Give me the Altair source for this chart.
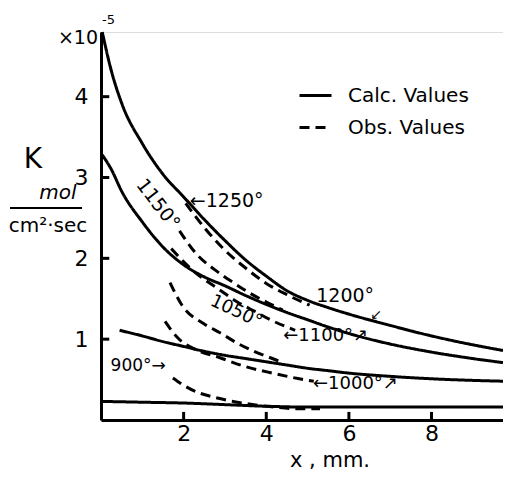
import altair as alt
import pandas as pd

FONT = "DejaVu Sans"

# ---- calculated curves (solid) ----
calc_a_x = [0.03, 0.25, 0.5, 1, 1.5, 2, 2.5, 3, 3.5, 4, 4.5, 5, 5.5, 6, 7, 8, 9, 9.73]
calc_a_y = [4.8, 4.32, 3.92, 3.42, 3.04, 2.76, 2.48, 2.22, 1.98, 1.78, 1.60, 1.48, 1.39, 1.31, 1.17, 1.04, 0.93, 0.86]

calc_b_x = [0.03, 0.25, 0.5, 1, 1.5, 2, 2.5, 3, 3.5, 4, 4.5, 5, 5.5, 6, 7, 8, 9, 9.73]
calc_b_y = [3.28, 3.10, 2.83, 2.45, 2.14, 1.92, 1.77, 1.66, 1.54, 1.43, 1.33, 1.24, 1.15, 1.07, 0.94, 0.84, 0.76, 0.71]

calc_c_x = [0.45, 1, 1.5, 2, 2.5, 3, 3.5, 4, 4.5, 5, 5.5, 6, 7, 8, 9, 9.73]
calc_c_y = [1.11, 1.04, 0.97, 0.91, 0.85, 0.80, 0.76, 0.72, 0.68, 0.64, 0.61, 0.58, 0.54, 0.51, 0.49, 0.48]

calc_d_x = [0.03, 1, 2, 3, 4, 5, 6, 7, 8, 9, 9.73]
calc_d_y = [0.23, 0.22, 0.21, 0.19, 0.17, 0.16, 0.16, 0.16, 0.16, 0.16, 0.16]

# ---- observed curves (dashed) ----
obs_1250_x = [2.05, 2.5, 3, 3.5, 4, 4.5, 5.05]
obs_1250_y = [2.68, 2.38, 2.10, 1.88, 1.69, 1.55, 1.42]

obs_1150_x = [1.9, 2.3, 2.75, 3.2, 3.6, 4.0, 4.4]
obs_1150_y = [2.34, 2.06, 1.86, 1.70, 1.57, 1.46, 1.36]

obs_1100_x = [1.7, 2.2, 2.9, 3.3, 3.7, 4.1, 4.7]
obs_1100_y = [2.12, 1.86, 1.60, 1.46, 1.35, 1.24, 1.11]

obs_1050_x = [1.67, 1.96, 2.49, 2.88, 3.3, 3.7, 4.1, 4.4]
obs_1050_y = [1.70, 1.42, 1.19, 1.08, 0.95, 0.85, 0.77, 0.71]

obs_1000_x = [1.55, 1.85, 2.3, 2.88, 3.5, 4.15, 4.8, 5.15]
obs_1000_y = [1.22, 1.02, 0.87, 0.77, 0.66, 0.58, 0.51, 0.48]

obs_900_x = [1.74, 2.0, 2.35, 2.75, 3.2, 3.7, 4.2, 4.7, 5.3]
obs_900_y = [0.52, 0.43, 0.34, 0.28, 0.23, 0.19, 0.16, 0.14, 0.14]

kinds = ["Calc. Values", "Obs. Values"]

x_ticks = [2, 4, 6, 8]
y_ticks = [1, 2, 3, 4]

series = [
    ("calc_a", kinds[0], calc_a_x, calc_a_y),
    ("calc_b", kinds[0], calc_b_x, calc_b_y),
    ("calc_c", kinds[0], calc_c_x, calc_c_y),
    ("calc_d", kinds[0], calc_d_x, calc_d_y),
    ("obs_1250", kinds[1], obs_1250_x, obs_1250_y),
    ("obs_1150", kinds[1], obs_1150_x, obs_1150_y),
    ("obs_1100", kinds[1], obs_1100_x, obs_1100_y),
    ("obs_1050", kinds[1], obs_1050_x, obs_1050_y),
    ("obs_1000", kinds[1], obs_1000_x, obs_1000_y),
    ("obs_900", kinds[1], obs_900_x, obs_900_y),
]
rows = []
for name, kind, xs, ys in series:
    for i, (xv, yv) in enumerate(zip(xs, ys)):
        rows.append({"series": name, "kind": kind, "x": xv, "y": yv, "order": i})
df = pd.DataFrame(rows)

# inward tick marks as short segments
tick_rows = []
for v in y_ticks:
    tick_rows.append({"series": f"yt{v}", "x": 0.0, "y": v, "order": 0})
    tick_rows.append({"series": f"yt{v}", "x": 0.2, "y": v, "order": 1})
for v in x_ticks:
    tick_rows.append({"series": f"xt{v}", "x": v, "y": 0.0, "order": 0})
    tick_rows.append({"series": f"xt{v}", "x": v, "y": 0.1, "order": 1})
tick_df = pd.DataFrame(tick_rows)

XMAX, YMAX = 9.73, 4.8
xscale = alt.Scale(domain=[0, XMAX], nice=False, zero=False)
yscale = alt.Scale(domain=[0, YMAX], nice=False)

XAXIS = alt.Axis(values=x_ticks, title=None, ticks=False, grid=False, domainWidth=3,
                 domainColor="black", labelFontSize=22, labelPadding=3, labelColor="black",
                 labelFont=FONT)
YAXIS = alt.Axis(values=y_ticks, title=None, ticks=False, grid=False, domainWidth=3,
                 domainColor="black", labelFontSize=22, labelPadding=13, labelColor="black",
                 labelFont=FONT)

lines = alt.Chart(df).mark_line(strokeWidth=3, color="black", interpolate="monotone").encode(
    x=alt.X("x:Q", scale=xscale, axis=XAXIS),
    y=alt.Y("y:Q", scale=yscale, axis=YAXIS),
    detail="series:N",
    order="order:Q",
    strokeDash=alt.StrokeDash("kind:N", scale=alt.Scale(domain=kinds, range=[[1, 0], [10, 6]]),
        legend=alt.Legend(orient="none", legendX=197, legendY=46, title=None,
                          symbolType="stroke", symbolSize=1024, symbolStrokeWidth=3,
                          symbolStrokeColor="black", labelFontSize=20, labelFont=FONT,
                          labelColor="black", labelOffset=15, rowPadding=4, padding=0)),
)

ticks = alt.Chart(tick_df).mark_line(strokeWidth=3, color="black", interpolate="linear").encode(
    x=alt.X("x:Q", scale=xscale, axis=XAXIS),
    y=alt.Y("y:Q", scale=yscale, axis=YAXIS),
    detail="series:N",
    order="order:Q")

def label(text, xv, yv, size=19, angle=0, align="left"):
    d = pd.DataFrame({"x": [xv], "y": [yv], "t": [text]})
    return alt.Chart(d).mark_text(font=FONT, fontSize=size, angle=angle, align=align,
                                  baseline="middle", color="black").encode(
        x=alt.X("x:Q", scale=xscale, axis=XAXIS),
        y=alt.Y("y:Q", scale=yscale, axis=YAXIS), text="t:N")

labels = [
    label("←1250°", 2.15, 2.71),
    label("1150°", 1.38, 2.67, angle=52, align="center"),
    label("1200°", 5.91, 1.53, align="center"),
    label("↙", 6.66, 1.30, size=14, align="center"),
    label("←1100°↗", 4.41, 1.04, size=18),
    label("1050°", 3.27, 1.34, size=18, angle=25, align="center"),
    label("←1000°↗", 5.13, 0.45, size=18),
    label("900°→", 0.9, 0.67, size=17, align="center"),
]

def ptext(text, px, py, size=20, align="center", style="normal"):
    d = pd.DataFrame({"t": [text]})
    return alt.Chart(d).mark_text(font=FONT, fontSize=size, align=align, baseline="middle",
                                  color="black", fontStyle=style).encode(
        x=alt.value(px), y=alt.value(py), text="t:N")

outside = [
    ptext("K", -68, 128, size=28),
    ptext("mol", -43, 161, size=20, style="italic"),
    ptext("cm²·sec", -53, 194, size=20),
    ptext("×10", -3, 6, size=19, align="right"),
    ptext("-5", 1, -12, size=13, align="left"),
    ptext("x , mm.", 229, 429, size=21),
]
frac = alt.Chart(pd.DataFrame({"a": [0]})).mark_rule(strokeWidth=2, color="black").encode(
    x=alt.value(-91), x2=alt.value(-19), y=alt.value(176))

chart = alt.layer(lines, ticks, *labels, frac, *outside).properties(
    width=402, height=388,
    autosize=alt.AutoSizeParams(type="none"),
    padding={"left": 93, "top": 24, "right": 0, "bottom": 51},
).configure_view(stroke=None).configure(background="white")

chart.save("out.html", embed_options={"renderer": "svg", "actions": False})
